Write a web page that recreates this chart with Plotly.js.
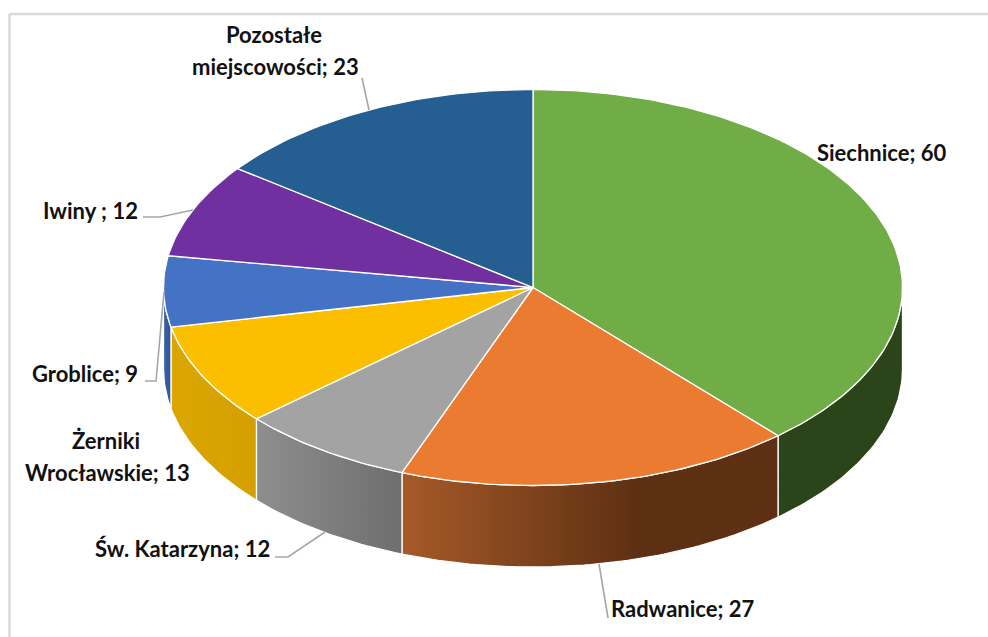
<!DOCTYPE html>
<html>
<head>
<meta charset="utf-8">
<script src="https://cdn.plot.ly/plotly-3.0.1.min.js"></script>
<style>html,body{margin:0;padding:0;background:#fff}#c{width:988px;height:637px}</style>
</head>
<body>
<div id="c"></div>
<script>
const names = ['Siechnice', 'Radwanice', 'Św. Katarzyna', 'Żerniki Wrocławskie', 'Groblice', 'Iwiny ', 'Pozostałe miejscowości'];
const values = [60, 27, 12, 13, 9, 12, 23];
const topColors = ['#70AD47', '#EB7B30', '#A3A3A3', '#FBBF00', '#4472C4', '#7030A0', '#255E91'];
const wallLeft = ['#2C4419', '#A65A28', '#8E8E8E', '#DBA600', '#3A62AC', '#7030A0', '#255E91'];
const wallRight = ['#2C4419', '#5E3013', '#6E6E6E', '#D4A000', '#2F5597', '#7030A0', '#255E91'];
const wallStop = [0.62, 0.62, 1, 1, 1, 1, 1];

const cx = 533, cy = 287.5, rx = 369.5, ry = 198, depth = 81.5;
const total = values.reduce((a, b) => a + b, 0);
const rad = d => d * Math.PI / 180;
const px = t => cx + rx * Math.sin(rad(t));
const py = t => cy - ry * Math.cos(rad(t));
const arc = (a, b) => { const n = Math.max(2, Math.ceil((b - a) / 1)), r = []; for (let i = 0; i <= n; i++) r.push(a + (b - a) * i / n); return r; };

const angles = [0];
values.forEach(v => angles.push(angles[angles.length - 1] + v / total * 360));

const traces = [];
// side walls (only the front half, 90..270 deg, is visible)
const walls = [];
values.forEach((v, i) => {
  const a = Math.max(angles[i], 90), b = Math.min(angles[i + 1], 270);
  if (b > a) walls.push({ i, a, b });
});
walls.forEach(w => {
  const ts = arc(w.a, w.b);
  const x = ts.map(px).concat(ts.slice().reverse().map(px), [px(ts[0])]);
  const y = ts.map(py).concat(ts.slice().reverse().map(t => py(t) + depth), [py(ts[0])]);
  const stop = wallStop[w.i];
  const scale = stop < 1
    ? [[0, wallLeft[w.i]], [stop, wallRight[w.i]], [1, wallRight[w.i]]]
    : [[0, wallLeft[w.i]], [1, wallRight[w.i]]];
  traces.push({
    type: 'scatter', mode: 'lines', x, y, fill: 'toself', hoverinfo: 'skip', showlegend: false,
    line: { color: '#ffffff', width: 1.3 },
    fillcolor: wallLeft[w.i],
    fillgradient: { type: 'horizontal', colorscale: scale }
  });
});
// top face
values.forEach((v, i) => {
  const ts = arc(angles[i], angles[i + 1]);
  traces.push({
    type: 'scatter', mode: 'lines',
    x: [cx].concat(ts.map(px), [cx]), y: [cy].concat(ts.map(py), [cy]),
    fill: 'toself', fillcolor: topColors[i], hoverinfo: 'skip', showlegend: false,
    line: { color: '#ffffff', width: 1.3 }
  });
});

// leader lines
const leaderX = [[362, 369], [143, 160, 193], [145, 156, 164], [275, 288, 325], [608, 599]];
const leaderY = [[78, 110], [217, 217, 210], [381, 381, 292], [557, 557, 532], [618, 564]];
leaderX.forEach((x, i) => traces.push({
  type: 'scatter', mode: 'lines', x, y: leaderY[i], hoverinfo: 'skip', showlegend: false,
  line: { color: '#A6A6A6', width: 1.6 }
}));

// data labels
const lbl = (i) => names[i] + '; ' + values[i];
const words = (s, k) => s.split(' ')[k];
const labelTexts = [lbl(0), lbl(1), lbl(2), words(names[3], 0), words(names[3], 1) + '; ' + values[3], lbl(4), lbl(5), words(names[6], 0), words(names[6], 1) + '; ' + values[6]];
const labelX = [882, 683, 182, 106, 107, 85, 90, 274, 275];
const labelY = [152, 608, 548, 440, 472, 373, 210, 34, 66];

const annotations = labelTexts.map((t, i) => ({
  xref: 'x', yref: 'y', x: labelX[i], y: labelY[i], text: t, showarrow: false,
  xanchor: 'center', yanchor: 'middle', font: { family: 'Lato, Carlito, sans-serif', size: 22, color: '#111111', weight: 700 }
}));

const layout = {
  width: 988, height: 637, margin: { l: 0, r: 0, t: 0, b: 0 },
  paper_bgcolor: '#fff', plot_bgcolor: '#fff', showlegend: false,
  xaxis: { range: [0, 988], visible: false, fixedrange: true },
  yaxis: { range: [637, 0], visible: false, fixedrange: true },
  annotations,
  shapes: [
    { type: 'line', xref: 'x', yref: 'y', x0: 9.5, x1: 988, y0: 14, y1: 14, line: { color: '#D9D9D9', width: 2.5 } },
    { type: 'line', xref: 'x', yref: 'y', x0: 9.5, x1: 9.5, y0: 14, y1: 637, line: { color: '#D9D9D9', width: 2.5 } }
  ]
};
Plotly.newPlot('c', traces, layout, { displayModeBar: false, staticPlot: true });
</script>
</body>
</html>
